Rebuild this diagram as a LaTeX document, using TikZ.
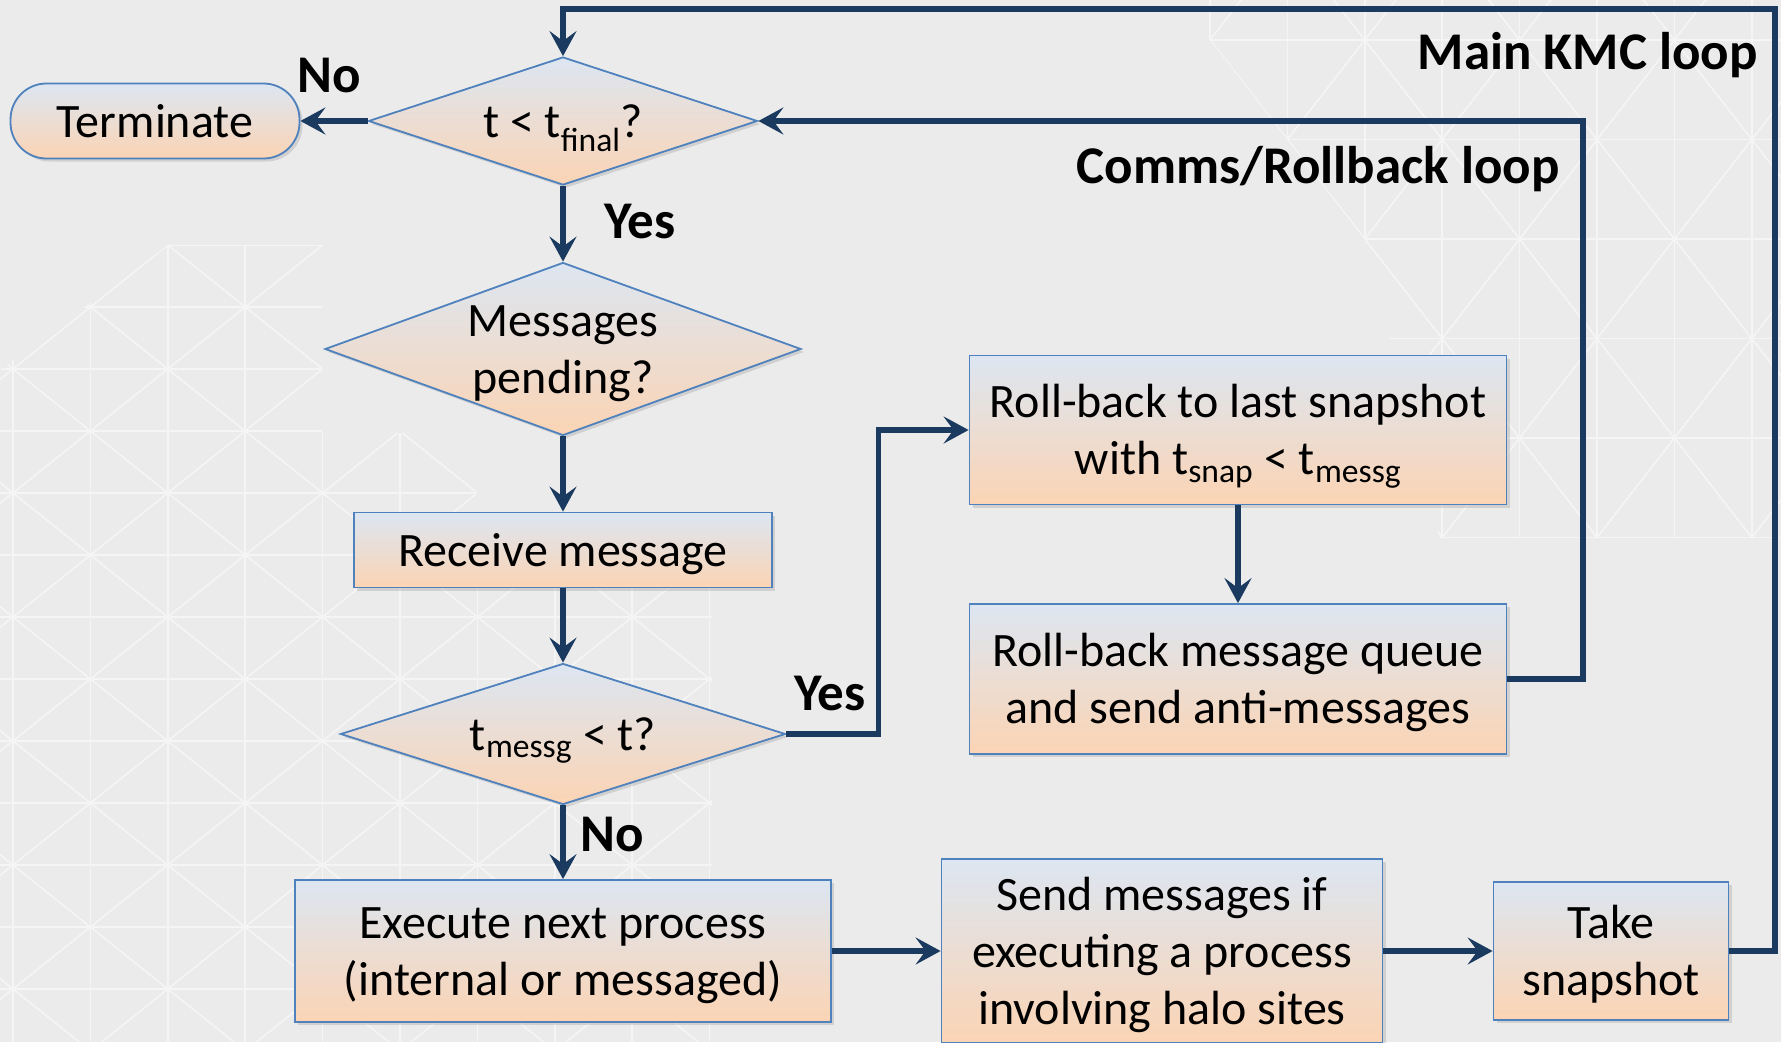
\documentclass[tikz,border=0pt]{standalone}
\usepackage{fontspec}
\setmainfont{Carlito}
\usetikzlibrary{positioning,arrows.meta,shapes.geometric,shadows}
\definecolor{kmcbg}{HTML}{EBEBEB}
\definecolor{kmcgrid}{HTML}{F5F5F5}
\definecolor{kmcnavy}{HTML}{1B3A60}
\definecolor{kmcedge}{HTML}{4F81BD}
\definecolor{kmctop}{HTML}{DCE6F2}
\definecolor{kmcpeach}{HTML}{FBD4B4}
\tikzset{
    box/.style={draw=kmcedge,line width=1.8pt,top color=kmctop,bottom color=kmcpeach,
        align=center,inner sep=0pt,font=\fontsize{48}{57}\selectfont,
        text height=32pt,text depth=0pt,
        drop shadow={opacity=0.25,shadow xshift=3pt,shadow yshift=-3pt}},
    twolines/.style={text height=89pt},
    threelines/.style={text height=146pt},
    process/.style={box,rectangle},
    decision/.style={box,diamond},
    terminal/.style={box,rectangle,rounded corners=36pt},
    flow/.style={draw=kmcnavy,line width=5.3pt,-{Stealth[length=25pt,width=27pt,inset=10pt]}},
    answer/.style={font=\bfseries\fontsize{53}{60}\selectfont},
    bgline/.style={draw=kmcgrid,line width=1.6pt},
}
% faint lattice of the slide background: x0, y0, cell width, cell height, last column, last row
\newcommand\kmclattice[6]{%
    \foreach \i in {0,...,#5}{\foreach \j in {0,...,#6}{
        \draw[bgline] (#1+#3*\i,#2+#4*\j) rectangle ++(#3,#4);
        \ifodd\numexpr\i+\j\relax
            \draw[bgline] (#1+#3*\i,#2+#4*\j+#4) -- ++(#3,-#4);
        \else
            \draw[bgline] (#1+#3*\i,#2+#4*\j) -- ++(#3,#4);
        \fi
    }}}

\begin{document}
\begin{tikzpicture}[x=1pt,y=-1pt]
    \fill[kmcbg] (0,0) rectangle (1781,1042);
    \useasboundingbox (0,0) rectangle (1781,1042);

    % background pattern
    \begin{scope}
        \clip (0,370) -- (168,245) -- (322,245) -- (322,433) -- (476,433) -- (476,560)
            -- (712,560) -- (712,1042) -- (0,1042) -- cycle;
        \kmclattice{-141.8}{245}{77.4}{62}{11}{12}
    \end{scope}
    \begin{scope}
        \clip (1205,0) -- (1781,0) -- (1781,540) -- (1440,540) -- (1365,240) -- (1210,40) -- (1205,40) -- cycle;
        \kmclattice{1210}{-159}{77.4}{99.5}{7}{6}
    \end{scope}

    % left column
    \node[terminal,minimum width=289,minimum height=75] (term) at (155,121) {Terminate};
    \node[decision,minimum width=389,minimum height=128,aspect=3] (tfin) at (563,121) {t < t\textsubscript{final}?};
    \node[decision,twolines,minimum width=476,minimum height=173,aspect=2.75] (pend) at (563,349) {Messages\\pending?};
    \node[process,minimum width=418,minimum height=75] (recv) at (563,550) {Receive message};
    \node[decision,minimum width=445,minimum height=141,aspect=3.15] (tmsg) at (563,734) {t\textsubscript{messg} < t?};
    \node[process,twolines,minimum width=536,minimum height=142] (exec) at (563,951) {Execute next process\\(internal or messaged)};

    % rollback branch
    \node[process,twolines,minimum width=537,minimum height=149] (rb1) at (1238,430) {Roll-back to last snapshot\\with t\textsubscript{snap} < t\textsubscript{messg}};
    \node[process,twolines,minimum width=537,minimum height=150] (rb2) at (1238,679) {Roll-back message queue\\and send anti-messages};

    % bottom row
    \node[process,threelines,minimum width=441,minimum height=184] (send) at (1162,951) {Send messages if\\executing a process\\involving halo sites};
    \node[process,twolines,minimum width=235,minimum height=138] (snap) at (1611,951) {Take\\snapshot};

    \coordinate (mainR) at (1775,9);
    \coordinate (commsR) at (1583,121);

    \draw[flow] (tfin.west) -- (term.east);
    \draw[flow] (tfin.south) -- (pend.north);
    \draw[flow] (pend.south) -- (recv.north);
    \draw[flow] (recv.south) -- (tmsg.north);
    \draw[flow] (tmsg.south) -- (exec.north);
    \draw[flow] (tmsg.east) -- ++(92,0) |- (rb1.west);
    \draw[flow] (rb1.south) -- (rb2.north);
    \draw[flow] (exec.east) -- (send.west);
    \draw[flow] (send.east) -- (snap.west);
    \draw[flow] (rb2.east) -| (commsR) -- (tfin.east);
    \draw[flow] (snap.east) -| (mainR) -| (tfin.north);

    \node[answer] (no1) at (329,76) {No};
    \node[answer] (yes1) at (640,222) {Yes};
    \node[answer] (yes2) at (830,694) {Yes};
    \node[answer] (no2) at (612,834) {No};
    \node[answer,anchor=east] (mainlbl) at (1761,55) {Main KMC loop};
    \node[answer,anchor=east] (commslbl) at (1563,169) {Comms/Rollback loop};
\end{tikzpicture}
\end{document}
